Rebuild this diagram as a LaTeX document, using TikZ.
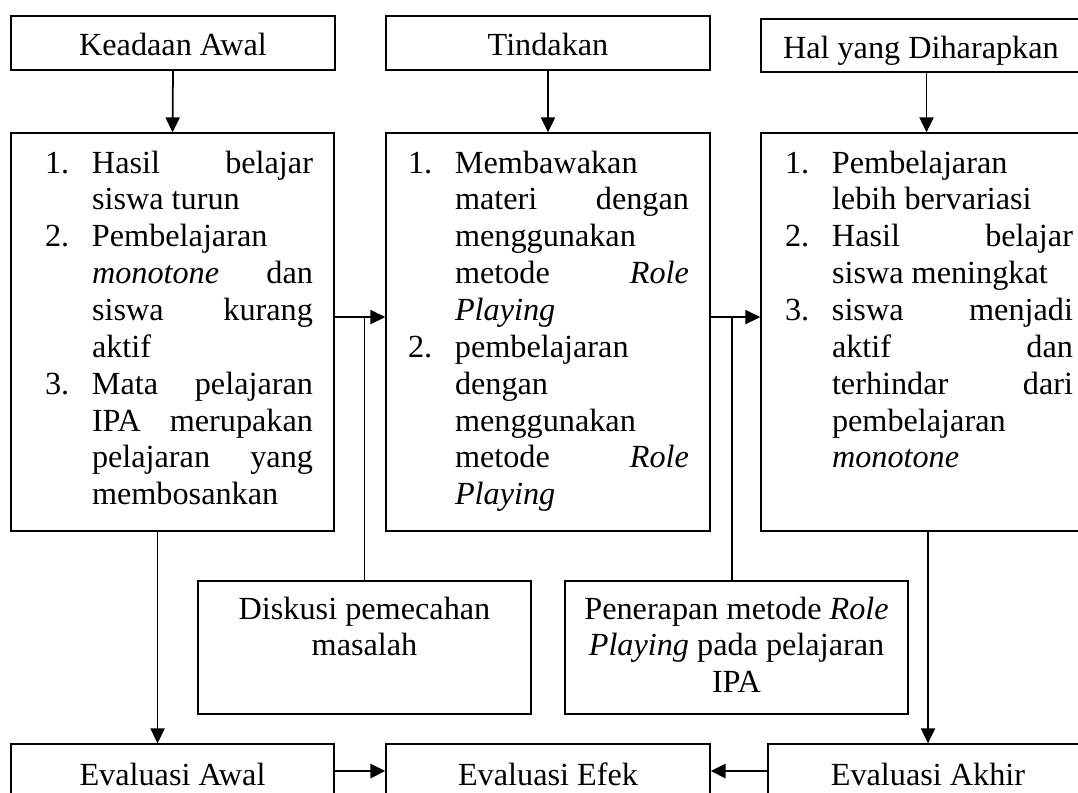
\documentclass[tikz,border=0pt]{standalone}
\usepackage{fontspec}
\setmainfont{Liberation Serif}
\usetikzlibrary{arrows.meta}
\newdimen\piks \piks=0.02cm
\newcommand{\huruf}{\fontsize{18.35pt}{20.98pt}\selectfont}
% isi kotak: [garis dasar pertama]{lebar}{tinggi}{teks}, dalam piksel gambar
\newcommand{\isi}[4][40]{\parbox[c][#3\piks][t]{#2\piks}{\tolerance=10000 \hbadness=10000 \hyphenpenalty=10000 \parskip=0pt
  \hbox{}\vskip\dimexpr#1\piks-\baselineskip\relax #4}}
\newcommand{\butir}[2]{\par\noindent\hangindent=47\piks\hangafter=1 \makebox[47\piks][l]{#1}#2\par}
\begin{document}
\begin{tikzpicture}[x=0.02cm, y=-0.02cm, font=\huruf,
  bingkai/.style={draw, line width=0.75pt, inner sep=0pt},
  panah/.style={->, line width=1pt},
  >={Triangle[length=8.5pt,width=8pt]}]
\clip (0,0) rectangle (1078,792);
% baris atas
\node[bingkai] (keadaan) at (173,43) {\isi[39]{324}{54}{\centering Keadaan Awal}};
\node[bingkai] (tindakan) at (548,43) {\isi[39]{324}{54}{\centering Tindakan}};
\node[bingkai] (harapan) at (926.5,45.5) {\isi[39]{331}{53}{\hspace*{22\piks}Hal yang Diharapkan}};
% kotak utama
\node[bingkai] (kiri) at (172.5,332) {\isi{323}{398}{\leftskip=34\piks \rightskip=21\piks
  \butir{1.}{Hasil belajar\linebreak siswa turun}
  \butir{2.}{Pembelajaran\newline \emph{monotone} dan\linebreak siswa kurang\linebreak aktif}
  \butir{3.}{Mata pelajaran\linebreak IPA merupakan\linebreak pelajaran yang\linebreak membosankan}}};
\node[bingkai] (tengah) at (548,332) {\isi{324}{398}{\leftskip=22\piks \rightskip=21\piks
  \butir{1.}{Membawakan\newline materi dengan\linebreak menggunakan\newline metode \emph{Role}\linebreak \emph{Playing}}
  \butir{2.}{pembelajaran\newline dengan\newline menggunakan\newline metode \emph{Role}\linebreak \emph{Playing}}}};
\node[bingkai] (kanan) at (926.5,332) {\isi{331}{398}{\leftskip=24\piks \rightskip=19\piks
  \butir{1.}{Pembelajaran\newline lebih bervariasi}
  \butir{2.}{Hasil belajar\linebreak siswa meningkat}
  \butir{3.}{siswa menjadi\linebreak aktif dan\linebreak terhindar dari\linebreak pembelajaran\newline \emph{monotone}}}};
% kotak tengah bawah
\node[bingkai] (diskusi) at (364.5,647.5) {\isi[38]{333}{133}{\centering Diskusi pemecahan\\ masalah}};
\node[bingkai] (penerapan) at (736.5,647.5) {\isi[38]{343}{133}{\centering Penerapan metode \emph{Role}\\ \emph{Playing} pada pelajaran\\ IPA}};
% evaluasi
\node[bingkai] (evawal) at (172.5,771) {\isi[41]{323}{54}{\centering Evaluasi Awal}};
\node[bingkai] (evefek) at (548,771) {\isi[41]{324}{54}{\centering Evaluasi Efek}};
\node[bingkai] (evakhir) at (928,771) {\isi[41]{320}{54}{\centering Evaluasi Akhir}};
% panah
\draw[panah] (keadaan.south) -- (kiri.north);
\draw[panah] (tindakan.south) -- (tengah.north);
\draw[panah] (harapan.south) -- (kanan.north);
\coordinate (cabang1) at ([yshift=8.5pt]kiri.east);
\coordinate (cabang2) at ([yshift=8.5pt]tengah.east);
\draw[panah] (cabang1) -- (cabang1 -| tengah.west);
\draw[panah] (cabang2) -- (cabang2 -| kanan.west);
\draw[line width=0.75pt] (diskusi.north) -- (diskusi.north |- cabang1);
\draw[line width=0.75pt] ([xshift=-2.5pt]penerapan.north) -- ([xshift=-2.5pt]penerapan.north |- cabang2);
\draw[panah] ([xshift=-8.5pt]kiri.south) -- ([xshift=-8.5pt]evawal.north);
\draw[panah] (evakhir.north |- kanan.south) -- (evakhir.north);
\draw[panah, line width=1.6pt] (evawal.east) -- (evefek.west);
\draw[panah, line width=1.6pt] (evakhir.west) -- (evefek.east);
\end{tikzpicture}
\end{document}
